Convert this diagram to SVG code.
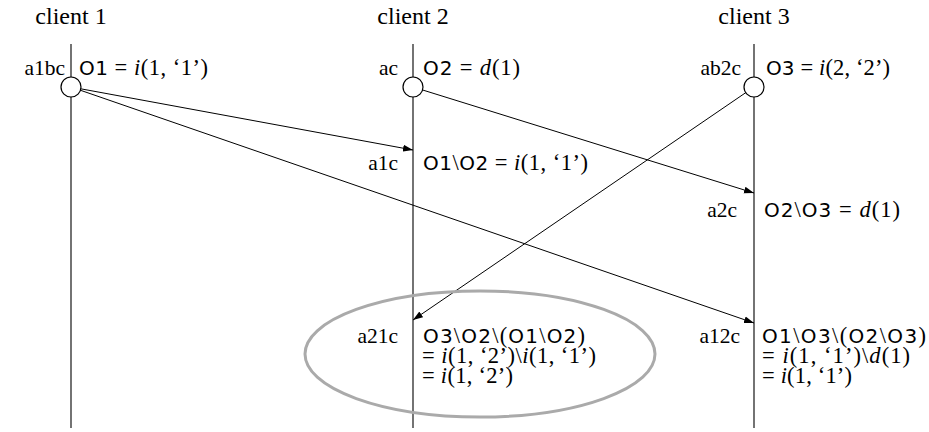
<svg xmlns="http://www.w3.org/2000/svg" width="929" height="432" viewBox="0 0 929 432">
<defs>
<style>
.t{font-family:"Liberation Serif","Times New Roman",serif;font-size:22.5px;fill:#000}
.h{font-size:24px}
.lb{font-size:21.5px}
.s{font-family:"DejaVu Sans","Liberation Sans",sans-serif;font-size:20px}
.i{font-style:italic}
.ll{text-anchor:end}
.life{stroke:#000;stroke-width:1.1;fill:none}
.msg{stroke:#000;stroke-width:1;fill:none;marker-end:url(#ah)}
.ev{fill:#fff;stroke:#000;stroke-width:1.2}
</style>
<marker id="ah" viewBox="0 0 10 8" refX="10" refY="4" markerWidth="10" markerHeight="8" markerUnits="userSpaceOnUse" orient="auto">
<path d="M0,0.5 L10,4 L0,7.5 Z" fill="#000"/>
</marker>
</defs>
<g id="client1">
<text class="t h" x="71" y="24" text-anchor="middle">client 1</text>
<line class="life" x1="71" y1="44" x2="71" y2="428"/>
</g>
<g id="client2">
<text class="t h" x="413" y="24" text-anchor="middle">client 2</text>
<line class="life" x1="413" y1="44" x2="413" y2="428"/>
</g>
<g id="client3">
<text class="t h" x="754" y="24" text-anchor="middle">client 3</text>
<line class="life" x1="754" y1="44" x2="754" y2="428"/>
</g>
<g id="connectors">
<line class="msg" x1="71" y1="87" x2="413" y2="150"/>
<line class="msg" x1="71" y1="87" x2="754" y2="323"/>
<line class="msg" x1="413" y1="87" x2="754" y2="193"/>
<line class="msg" x1="754" y1="87" x2="413" y2="320"/>
</g>
<g id="e1">
<circle class="ev" cx="71" cy="87" r="10"/>
<text class="t lb ll" x="65" y="75">a1bc</text>
<text class="t" x="79" y="75" textLength="129" lengthAdjust="spacing"><tspan class="s">O1</tspan> = <tspan class="i">i</tspan>(1, ‘1’)</text>
</g>
<g id="e2">
<circle class="ev" cx="413" cy="87" r="10"/>
<text class="t lb ll" x="398" y="75">ac</text>
<text class="t" x="423" y="75" textLength="97" lengthAdjust="spacing"><tspan class="s">O2</tspan> = <tspan class="i">d</tspan>(1)</text>
</g>
<g id="e3">
<circle class="ev" cx="754" cy="87" r="10"/>
<text class="t lb ll" x="741" y="75">ab2c</text>
<text class="t" x="766" y="75" textLength="124" lengthAdjust="spacing"><tspan class="s">O3</tspan> = <tspan class="i">i</tspan>(2, ‘2’)</text>
</g>
<g id="r12">
<text class="t lb ll" x="398" y="170">a1c</text>
<text class="t" x="423" y="170" textLength="165" lengthAdjust="spacing"><tspan class="s">O1</tspan>\<tspan class="s">O2</tspan> = <tspan class="i">i</tspan>(1, ‘1’)</text>
</g>
<g id="r23">
<text class="t lb ll" x="737" y="217">a2c</text>
<text class="t" x="764" y="217" textLength="136" lengthAdjust="spacing"><tspan class="s">O2</tspan>\<tspan class="s">O3</tspan> = <tspan class="i">d</tspan>(1)</text>
</g>
<g id="r21">
<ellipse cx="480" cy="354" rx="175" ry="63" fill="none" stroke="#aaa" stroke-width="3"/>
<text class="t lb ll" x="398" y="343">a21c</text>
<text class="t" x="423" y="343" textLength="162" lengthAdjust="spacing"><tspan class="s">O3</tspan>\<tspan class="s">O2</tspan>\(<tspan class="s">O1</tspan>\<tspan class="s">O2</tspan>)</text>
<text class="t" x="422" y="363" textLength="174" lengthAdjust="spacing">= <tspan class="i">i</tspan>(1, ‘2’)\<tspan class="i">i</tspan>(1, ‘1’)</text>
<text class="t" x="422" y="383" textLength="91" lengthAdjust="spacing">= <tspan class="i">i</tspan>(1, ‘2’)</text>
</g>
<g id="r12c">
<text class="t lb ll" x="740" y="343">a12c</text>
<text class="t" x="762" y="343" textLength="164" lengthAdjust="spacing"><tspan class="s">O1</tspan>\<tspan class="s">O3</tspan>\(<tspan class="s">O2</tspan>\<tspan class="s">O3</tspan>)</text>
<text class="t" x="762" y="363" textLength="148" lengthAdjust="spacing">= <tspan class="i">i</tspan>(1, ‘1’)\<tspan class="i">d</tspan>(1)</text>
<text class="t" x="762" y="383" textLength="90" lengthAdjust="spacing">= <tspan class="i">i</tspan>(1, ‘1’)</text>
</g>
</svg>
